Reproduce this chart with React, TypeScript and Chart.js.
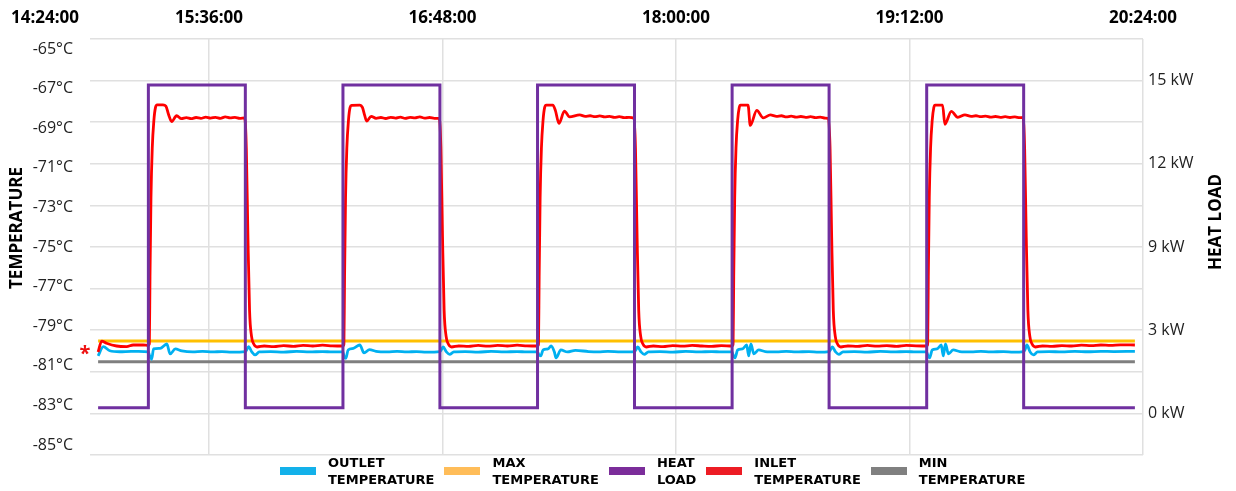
import React, { useEffect, useRef } from 'react';
import { Chart, registerables } from 'chart.js';

Chart.register(...registerables);

// time in minutes after 14:24:00
const X_MIN = 35.3;
const X_MAX = 360;
const X_TICK_VALUES = [X_MIN, 72, 144, 216, 288, 360];
const X_TICK_LABELS = ['14:24:00', '15:36:00', '16:48:00', '18:00:00', '19:12:00', '20:24:00'];

const TEMP_MIN = -85.505;
const TEMP_MAX = -64.495;
const TEMP_TICKS = [-85, -83, -81, -79, -77, -75, -73, -71, -69, -67, -65];

const LOAD_MIN = -1.875;
const LOAD_MAX = 16.875;
const LOAD_GRID = [-1.875, 0, 1.875, 3.75, 5.625, 7.5, 9.375, 11.25, 13.125, 15, 16.875];
const LOAD_TICK_LABELS = ['', '0 kW', '', '3 kW', '', '9 kW', '', '12 kW', '', '15 kW', ''];

const LEFT_TITLE = 'TEMPERATURE';
const RIGHT_TITLE = 'HEAT LOAD';
const START_MARK = '*';

const SERIES_NAMES = ['OUTLET TEMPERATURE', 'MAX TEMPERATURE', 'HEAT LOAD', 'INLET TEMPERATURE', 'MIN TEMPERATURE'];
const LEGEND_COLORS = ['#13b1ea', '#ffbd59', '#7b2d9a', '#ed1c24', '#808080'];
const LINE_COLORS = ['#00b0f0', '#ffc000', '#7030a0', '#ff0000', '#7f7f7f'];

const HEAT_LOAD: [number, number][] = [
  [37.8, 0.25], [53.3, 14.8], [83.2, 0.25], [113.3, 14.8], [143.2, 0.25], [173.3, 14.8],
  [203.2, 0.25], [233.3, 14.8], [263.2, 0.25], [293.3, 14.8], [323.2, 0.25], [357.5, 0.25],
];

const MAX_TEMP: [number, number][] = [[37.8, -79.75], [357.5, -79.75]];
const MIN_TEMP: [number, number][] = [[37.8, -80.8], [357.5, -80.8]];

const INLET_TEMP: [number, number][] = [
  [37.8, -80.3], [38.9, -79.75], [40.4, -79.86], [43.5, -80.0], [46.6, -80.03], [48.6, -79.95], [51.7, -79.95], [53.3, -79.97],
  [53.6, -79.9], [53.8, -76.5], [54.1, -72.5], [54.5, -70.0], [55.0, -68.6], [55.5, -67.95], [56.0, -67.82], [57.8, -67.82],
  [58.7, -67.88], [59.5, -68.3], [60.5, -68.67], [62.0, -68.37], [63.5, -68.52], [65, -68.47], [66.5, -68.52], [68, -68.46],
  [69.5, -68.5], [71, -68.44], [72.5, -68.49], [74, -68.45], [75.5, -68.5], [77, -68.43], [78.5, -68.48], [80, -68.45],
  [81.5, -68.5], [83.0, -68.48],
  [83.5, -70.0], [84.0, -74.5], [84.5, -78.2], [85.1, -79.5], [85.8, -79.9], [86.8, -80.05], [89, -80.0], [92, -80.03],
  [95, -79.98], [98, -80.02], [101, -79.97], [104, -80.0], [107, -79.96], [110, -79.99], [113.3, -80.0],
  [113.6, -79.9], [113.8, -76.5], [114.1, -72.5], [114.5, -70.0], [115.0, -68.6], [115.5, -67.95], [116.0, -67.85], [118.5, -67.83],
  [119.3, -67.95], [120.0, -68.35], [120.6, -68.64], [122.0, -68.4], [123.5, -68.5], [125, -68.46], [126.5, -68.51], [128, -68.45],
  [129.5, -68.49], [131, -68.44], [132.5, -68.5], [134, -68.45], [135.5, -68.48], [137, -68.43], [138.5, -68.49], [140, -68.46],
  [141.5, -68.5], [143.0, -68.5],
  [143.5, -70.0], [144.0, -74.5], [144.5, -78.2], [145.1, -79.5], [145.8, -79.9], [146.8, -80.05], [149, -80.0], [152, -80.02],
  [155, -79.97], [158, -80.01], [161, -79.97], [164, -80.0], [167, -79.96], [170, -79.99], [173.3, -80.0],
  [173.6, -79.9], [173.8, -76.5], [174.1, -72.5], [174.5, -70.0], [175.0, -68.6], [175.5, -67.95], [176.0, -67.83], [178.0, -67.83],
  [178.8, -68.1], [179.9, -68.76], [181.6, -68.14], [183.2, -68.43], [186.3, -68.33], [188, -68.4], [189.5, -68.37], [191, -68.42],
  [192.5, -68.38], [194, -68.43], [195.5, -68.4], [197, -68.45], [198.5, -68.42], [200, -68.47], [201.5, -68.45], [203.0, -68.5],
  [203.5, -70.0], [204.0, -74.5], [204.5, -78.2], [205.1, -79.5], [205.8, -79.9], [206.8, -80.05], [209, -80.0], [212, -80.03],
  [215, -79.98], [218, -80.01], [221, -79.97], [224, -80.0], [227, -80.02], [230, -79.98], [233.3, -80.0],
  [233.6, -79.9], [233.8, -76.5], [234.1, -72.5], [234.5, -70.0], [235.0, -68.6], [235.5, -67.95], [235.9, -67.83], [238.2, -67.83],
  [238.9, -68.86], [240.9, -68.1], [242.9, -68.48], [245.1, -68.33], [247, -68.4], [248.5, -68.37], [250, -68.43], [251.5, -68.39],
  [253, -68.44], [254.5, -68.41], [256, -68.45], [257.5, -68.42], [259, -68.47], [260.5, -68.44], [262, -68.49], [263.0, -68.5],
  [263.5, -70.0], [264.0, -74.5], [264.5, -78.2], [265.1, -79.5], [265.8, -79.9], [266.8, -80.05], [269, -80.0], [272, -80.02],
  [275, -79.97], [278, -80.01], [281, -79.98], [284, -80.02], [287, -79.97], [290, -79.99], [293.3, -80.0],
  [293.6, -79.9], [293.8, -76.5], [294.1, -72.5], [294.5, -70.0], [295.0, -68.6], [295.5, -67.95], [295.9, -67.83], [298.2, -67.83],
  [298.9, -68.8], [300.9, -68.15], [302.9, -68.45], [305.1, -68.33], [307, -68.4], [308.5, -68.37], [310, -68.42], [311.5, -68.39],
  [313, -68.44], [314.5, -68.41], [316, -68.45], [317.5, -68.42], [319, -68.46], [320.5, -68.43], [322, -68.47], [323.0, -68.45],
  [323.5, -70.0], [324.0, -74.5], [324.5, -78.2], [325.1, -79.5], [325.8, -79.9], [326.8, -80.05], [329, -80.0], [332, -80.02],
  [335, -79.98], [338, -80.0], [341, -79.96], [344, -79.98], [347, -79.95], [350, -79.97], [353, -79.94], [357.5, -79.95],
];

const OUTLET_TEMP: [number, number][] = [
  [37.8, -80.5], [39.4, -80.03], [41.4, -80.24], [44.5, -80.29], [48, -80.27], [52, -80.28], [53.3, -80.3],
  [53.6, -80.45], [54.3, -80.67], [54.9, -80.15], [56.9, -80.12], [59.0, -79.9], [60.0, -80.4], [61.6, -80.15], [63.6, -80.25],
  [67, -80.3], [70, -80.27], [73, -80.3], [76, -80.28], [79, -80.31], [83.2, -80.28],
  [83.6, -80.2], [84.2, -80.03], [85.2, -80.3], [86.2, -80.45], [87.5, -80.3], [91, -80.28], [95, -80.31], [99, -80.27],
  [103, -80.3], [107, -80.28], [110, -80.3], [113.3, -80.3],
  [113.6, -80.5], [114.2, -80.62], [114.9, -80.2], [116.5, -80.12], [118.5, -79.95], [119.8, -80.35], [121.5, -80.18], [123.5, -80.27],
  [127, -80.3], [130, -80.27], [133, -80.3], [136, -80.28], [139, -80.31], [143.2, -80.28],
  [143.6, -80.2], [144.2, -80.05], [145.2, -80.3], [146.2, -80.42], [147.5, -80.3], [151, -80.28], [155, -80.31], [159, -80.27],
  [163, -80.3], [167, -80.28], [170, -80.3], [173.3, -80.3],
  [173.6, -80.4], [174.3, -80.5], [175.0, -80.2], [176.5, -80.15], [177.5, -80.0], [178.5, -80.3], [179.0, -80.6], [180.5, -80.2],
  [182.5, -80.3], [185, -80.22], [189, -80.28], [192, -80.3], [195, -80.27], [199, -80.3], [203.2, -80.28],
  [203.6, -80.2], [204.2, -80.05], [205.2, -80.3], [206.2, -80.42], [207.5, -80.3], [211, -80.28], [215, -80.31], [219, -80.27],
  [223, -80.3], [227, -80.28], [230, -80.3], [233.3, -80.3],
  [233.6, -80.45], [234.2, -80.6], [235.0, -80.2], [236.5, -80.15], [237.8, -79.95], [238.4, -80.5], [239.1, -79.9], [240.0, -80.4],
  [241.5, -80.2], [243.5, -80.28], [247, -80.3], [250, -80.27], [253, -80.3], [257, -80.28], [260, -80.31], [263.2, -80.28],
  [263.6, -80.2], [264.2, -80.05], [265.2, -80.3], [266.2, -80.42], [267.5, -80.3], [271, -80.28], [275, -80.31], [279, -80.27],
  [283, -80.3], [287, -80.28], [290, -80.3], [293.3, -80.3],
  [293.6, -80.45], [294.2, -80.6], [295.0, -80.2], [296.5, -80.15], [297.8, -79.95], [298.4, -80.5], [299.1, -79.9], [300.0, -80.4],
  [301.5, -80.2], [303.5, -80.28], [307, -80.3], [310, -80.27], [313, -80.3], [317, -80.28], [320, -80.31], [323.2, -80.28],
  [323.6, -80.2], [324.2, -79.95], [325.2, -80.3], [326.2, -80.45], [327.5, -80.3], [331, -80.28], [335, -80.3], [339, -80.27],
  [343, -80.29], [347, -80.27], [351, -80.28], [357.5, -80.27],
];

const GRID_COLOR = '#e0e0e0';
const FONT = '"Open Sans", "Liberation Sans", sans-serif';

const toXY = (pts: [number, number][]) => pts.map(([x, y]) => ({ x, y }));

const sideTitles = {
  id: 'sideTitles',
  beforeDraw(chart: any) {
    const items = chart.scales.x.getLabelItems();
    if (items && items.length) items[0].options.translation[0] = chart.chartArea.left / 2;
  },
  afterDraw(chart: any) {
    const ctx = chart.ctx;
    const drawRotated = (text: string, x: number, y: number) => {
      ctx.save();
      ctx.font = `bold 17px ${FONT}`;
      ctx.fillStyle = '#000';
      ctx.textAlign = 'center';
      ctx.textBaseline = 'middle';
      ctx.translate(x, y);
      ctx.rotate(-Math.PI / 2);
      ctx.fillText(text, 0, 0);
      ctx.restore();
    };
    drawRotated(LEFT_TITLE, 17, 228);
    drawRotated(RIGHT_TITLE, 1216, 222);
    // start marker next to the first inlet reading
    const first = INLET_TEMP[0];
    ctx.save();
    ctx.font = `bold 20px ${FONT}`;
    ctx.fillStyle = '#ee1111';
    ctx.textAlign = 'center';
    ctx.textBaseline = 'middle';
    ctx.fillText(START_MARK, chart.chartArea.left - 5, chart.scales.y.getPixelForValue(first[1]) + 2);
    ctx.restore();
  },
};

export default function App() {
  const ref = useRef<HTMLCanvasElement | null>(null);

  useEffect(() => {
    if (!ref.current) return;
    Chart.defaults.font.family = FONT;
    const line = (i: number, data: [number, number][], axis: string, width: number, order: number, extra: any = {}) => ({
      label: SERIES_NAMES[i],
      data: toXY(data),
      yAxisID: axis,
      borderColor: LINE_COLORS[i],
      backgroundColor: LEGEND_COLORS[i],
      borderWidth: width,
      pointRadius: 0,
      fill: false,
      order,
      ...extra,
    });
    const chart = new Chart(ref.current, {
      type: 'line',
      data: {
        datasets: [
          line(2, HEAT_LOAD, 'y2', 3, 0, { stepped: true, borderJoinStyle: 'miter' }),
          line(3, INLET_TEMP, 'y', 2.8, 1, { cubicInterpolationMode: 'monotone' }),
          line(0, OUTLET_TEMP, 'y', 2.8, 2, { cubicInterpolationMode: 'monotone' }),
          line(1, MAX_TEMP, 'y', 3, 3),
          line(4, MIN_TEMP, 'y', 3, 4),
        ] as any,
      },
      options: {
        animation: false,
        responsive: true,
        maintainAspectRatio: false,
        layout: { padding: { top: 0, left: 0, right: 0, bottom: 36 } },
        plugins: { legend: { display: false }, tooltip: { enabled: false } },
        scales: {
          x: {
            type: 'linear',
            position: 'top',
            min: X_MIN,
            max: X_MAX,
            afterBuildTicks: (s: any) => { s.ticks = X_TICK_VALUES.map((v) => ({ value: v })); },
            afterFit: (s: any) => { s.height = 39; },
            ticks: {
              autoSkip: false,
              maxRotation: 0,
              padding: 11,
              color: '#000',
              font: { size: 17, weight: 'bold' },
              callback: (_v: any, i: number) => X_TICK_LABELS[i],
            },
            grid: {
              drawTicks: false,
              lineWidth: 1.5,
              color: (c: any) => (c.index === 0 ? 'rgba(0,0,0,0)' : GRID_COLOR),
            },
            border: { display: false },
          },
          y: {
            type: 'linear',
            position: 'left',
            min: TEMP_MIN,
            max: TEMP_MAX,
            afterBuildTicks: (s: any) => { s.ticks = TEMP_TICKS.map((v) => ({ value: v })); },
            afterFit: (s: any) => { s.width = 90; },
            ticks: {
              padding: 17,
              color: '#222',
              font: { size: 16 },
              callback: (v: any) => `${v}°C`,
            },
            grid: { display: false, drawTicks: false },
            border: { display: false },
          },
          y2: {
            type: 'linear',
            position: 'right',
            min: LOAD_MIN,
            max: LOAD_MAX,
            afterBuildTicks: (s: any) => { s.ticks = LOAD_GRID.map((v) => ({ value: v })); },
            afterFit: (s: any) => { s.width = 93; },
            ticks: {
              padding: 5,
              color: '#222',
              font: { size: 16 },
              callback: (_v: any, i: number) => LOAD_TICK_LABELS[i],
            },
            grid: { drawTicks: false, lineWidth: 1.5, color: GRID_COLOR },
            border: { display: false },
          },
        },
      } as any,
      plugins: [sideTitles],
    });
    return () => chart.destroy();
  }, []);

  return (
    <div style={{ position: 'absolute', left: 0, top: 0, width: 1236, height: 491, background: '#fff' }}>
      <div style={{ position: 'absolute', left: 0, top: 0, width: 1236, height: 491 }}>
        <canvas ref={ref} />
      </div>
      <div
        style={{
          position: 'absolute',
          left: 280,
          top: 453,
          height: 36,
          display: 'flex',
          alignItems: 'center',
          fontFamily: '"DejaVu Sans", sans-serif',
          fontWeight: 700,
          fontSize: 13,
          lineHeight: '17px',
          color: '#000',
        }}
      >
        {SERIES_NAMES.map((name, i) => {
          const sp = name.indexOf(' ');
          return (
            <div key={name} style={{ display: 'flex', alignItems: 'center', marginRight: 10 }}>
              <span style={{ display: 'inline-block', width: 36, height: 8, background: LEGEND_COLORS[i], marginRight: 12 }} />
              <span>
                {name.slice(0, sp)}
                <br />
                {name.slice(sp + 1)}
              </span>
            </div>
          );
        })}
      </div>
    </div>
  );
}
